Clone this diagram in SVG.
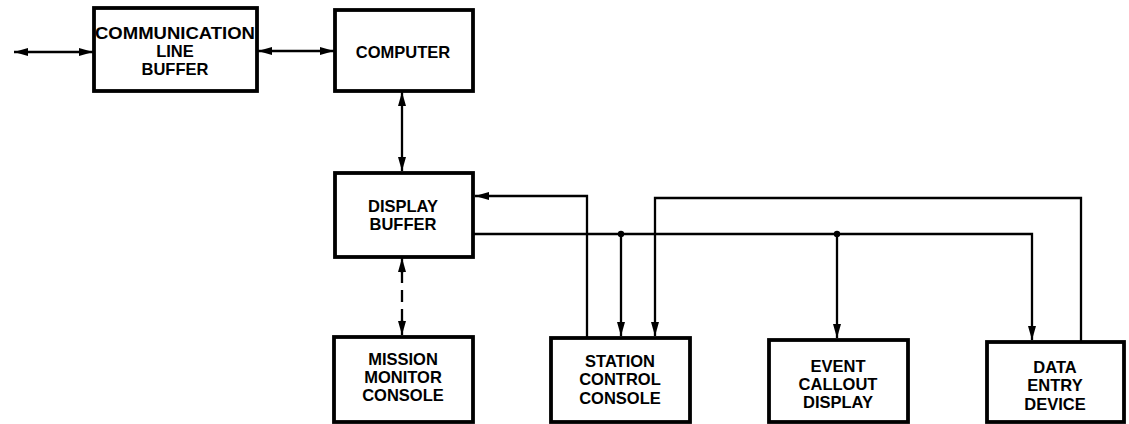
<svg xmlns="http://www.w3.org/2000/svg" width="1129" height="424" viewBox="0 0 1129 424">
<style>
.box{fill:#fff;stroke:#000;stroke-width:3.8}
.ln{fill:none;stroke:#000;stroke-width:2.3}
.dash{stroke-dasharray:12 7}
text{font-family:"Liberation Sans",Arial,sans-serif;font-weight:bold;font-size:16.5px;text-anchor:middle;fill:#000}
</style>
<defs>
<marker id="ah" viewBox="0 0 14 8" refX="14" refY="4" markerWidth="14" markerHeight="8" markerUnits="userSpaceOnUse" orient="auto-start-reverse">
<path d="M0,0 L14,4 L0,8 z" fill="#000"/>
</marker>
</defs>
<rect width="1129" height="424" fill="#fff"/>
<g id="connectors">
<line class="ln" x1="14" y1="52" x2="93" y2="52" marker-start="url(#ah)" marker-end="url(#ah)"/>
<line class="ln" x1="258" y1="51" x2="334" y2="51" marker-start="url(#ah)" marker-end="url(#ah)"/>
<line class="ln" x1="402" y1="92" x2="402" y2="171" marker-start="url(#ah)" marker-end="url(#ah)"/>
<line class="ln" x1="402" y1="258" x2="402" y2="335" marker-start="url(#ah)" marker-end="url(#ah)"/>
<line x1="402" y1="273" x2="402" y2="320" stroke="#fff" stroke-width="5"/>
<line class="ln dash" x1="402" y1="271" x2="402" y2="322"/>
<path class="ln" d="M587,337 V196 H475" marker-end="url(#ah)"/>
<path class="ln" d="M474,234 H1032 V340" marker-end="url(#ah)"/>
<line class="ln" x1="621" y1="234" x2="621" y2="336" marker-end="url(#ah)"/>
<line class="ln" x1="837" y1="234" x2="837" y2="338" marker-end="url(#ah)"/>
<circle cx="621" cy="234" r="3.2" fill="#000"/>
<circle cx="837" cy="234" r="3.2" fill="#000"/>
<path class="ln" d="M1081,341 V198 H655 V336" marker-end="url(#ah)"/>
</g>
<g id="comm-buffer">
<rect class="box" x="94" y="8" width="163" height="83"/>
<text x="175" y="39" textLength="160" lengthAdjust="spacingAndGlyphs">COMMUNICATION</text>
<text x="175" y="57">LINE</text>
<text x="175" y="75">BUFFER</text>
</g>
<g id="computer">
<rect class="box" x="335" y="10" width="138" height="81"/>
<text x="403" y="58">COMPUTER</text>
</g>
<g id="display-buffer">
<rect class="box" x="335" y="173" width="138" height="84"/>
<text x="403" y="212">DISPLAY</text>
<text x="403" y="230">BUFFER</text>
</g>
<g id="mission-monitor">
<rect class="box" x="334" y="337" width="139" height="85"/>
<text x="403" y="365">MISSION</text>
<text x="403" y="383">MONITOR</text>
<text x="403" y="401">CONSOLE</text>
</g>
<g id="station-control">
<rect class="box" x="551" y="338" width="139" height="84"/>
<text x="620" y="367">STATION</text>
<text x="620" y="385">CONTROL</text>
<text x="620" y="404">CONSOLE</text>
</g>
<g id="event-callout">
<rect class="box" x="769" y="340" width="139" height="82"/>
<text x="838" y="372">EVENT</text>
<text x="838" y="390">CALLOUT</text>
<text x="838" y="408">DISPLAY</text>
</g>
<g id="data-entry">
<rect class="box" x="987" y="342" width="137" height="80"/>
<text x="1055" y="373">DATA</text>
<text x="1055" y="391">ENTRY</text>
<text x="1055" y="410">DEVICE</text>
</g>
</svg>
